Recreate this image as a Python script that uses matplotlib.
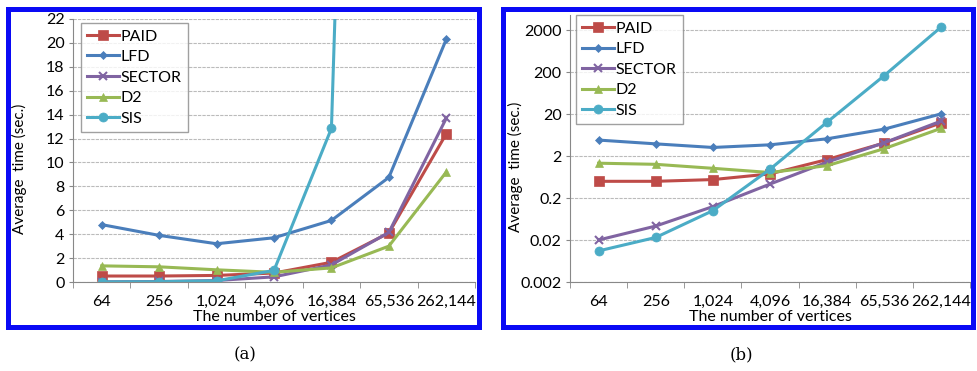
import matplotlib
matplotlib.use("Agg")
import matplotlib.pyplot as plt
from matplotlib.patches import Rectangle

# average running time (sec.) per graph size
vertices = ["64", "256", "1,024", "4,096", "16,384", "65,536", "262,144"]
paid = [0.5, 0.5, 0.55, 0.75, 1.65, 4.1, 12.4]
lfd = [4.8, 3.9, 3.2, 3.7, 5.15, 8.75, 20.3]
sector = [0.02, 0.043, 0.125, 0.43, 1.43, 4.15, 13.7]
d2 = [1.35, 1.27, 1.02, 0.81, 1.18, 3.0, 9.2]
sis = [0.011, 0.023, 0.1, 0.97, 12.85, 165, 2400]

lin_ticks = list(range(0, 23, 2))
log_ticks = [0.002, 0.02, 0.2, 2, 20, 200, 2000]
log_labels = ["0.002", "0.02", "0.2", "2", "20", "200", "2000"]

series = [
    ("PAID", paid, "#be4b48", "s", 7.5),
    ("LFD", lfd, "#4a7ebb", "D", 4),
    ("SECTOR", sector, "#8064a2", "x", 6),
    ("D2", d2, "#98b954", "^", 6),
    ("SIS", sis, "#4bacc6", "o", 6.5),
]

plt.rcParams["font.family"] = ["Lato", "DejaVu Sans"]

fig = plt.figure(figsize=(9.77, 3.71), dpi=100)
W, H = 977, 371


def px_axes(x0, x1, top, bottom):
    return fig.add_axes([x0 / W, (H - bottom) / H, (x1 - x0) / W, (bottom - top) / H])


def style(ax, label_x):
    x = list(range(len(vertices)))
    for name, vals, col, mk, ms in series:
        ax.plot(x, vals, color=col, marker=mk, markersize=ms, linewidth=2.2,
                markeredgewidth=1.5 if mk == "x" else 0.5, label=name)
    ax.set_xlim(-0.5, len(vertices) - 0.5)
    ax.set_xticks(x)
    ax.set_xticklabels(vertices, fontsize=11.5)
    ax.tick_params(axis="x", which="major", length=0, pad=9)
    ax.tick_params(axis="y", length=3, color="#888888", labelsize=11.5, pad=3)
    for s in ("top", "right"):
        ax.spines[s].set_visible(False)
    for s in ("left", "bottom"):
        ax.spines[s].set_color("#888888")
    ax.grid(axis="y", color="#bbbbbb", linestyle=(0, (3, 1)), linewidth=0.8)
    ax.set_axisbelow(True)
    ax.set_xlabel("The number of vertices", fontsize=11.5, labelpad=1)
    ax.set_ylabel("Average  time (sec.)", fontsize=11)
    ax.yaxis.set_label_coords(label_x, 0.43)


def boundaries(ax):
    ax.set_xticks([i - 0.5 for i in range(len(vertices) + 1)], minor=True)
    ax.tick_params(axis="x", which="minor", length=4, color="#888888", direction="out")


def legend(ax, x0, top):
    ax.legend(loc="upper left", bbox_to_anchor=(x0, top), fontsize=11.5, frameon=True,
              fancybox=False, edgecolor="#888888", handlelength=2.0, handletextpad=0.1,
              labelspacing=0.4, borderpad=0.4, borderaxespad=0)


# linear scale panel
ax1 = px_axes(73, 475, 19, 282)
style(ax1, -0.115)
ax1.set_ylim(0, 22)
ax1.set_yticks(lin_ticks)
boundaries(ax1)
legend(ax1, 0.02, 0.985)

# log scale panel
ax2 = px_axes(570, 970, 15, 282)
style(ax2, -0.118)
ax2.set_yscale("log")
ax2.set_ylim(0.002, 4570)
ax2.set_yticks(log_ticks)
ax2.set_yticklabels(log_labels)
ax2.minorticks_off()
boundaries(ax2)
legend(ax2, 0.015, 1.0)

# blue frames around each panel
for x0, x1 in ((5, 481), (500, 975)):
    fig.patches.append(Rectangle(((x0 + 2.5) / W, (H - 329 + 2.5) / H),
                                 (x1 - x0 - 5) / W, (329 - 6 - 5) / H,
                                 transform=fig.transFigure, fill=False,
                                 edgecolor="#0a0af5", linewidth=3.6, zorder=10))

fig.text(245 / W, 1 - 355 / H, "(a)", ha="center", va="center", fontsize=12,
         family="DejaVu Serif")
fig.text(741 / W, 1 - 355 / H, "(b)", ha="center", va="center", fontsize=12,
         family="DejaVu Serif")

fig.savefig("out.png", dpi=100)
